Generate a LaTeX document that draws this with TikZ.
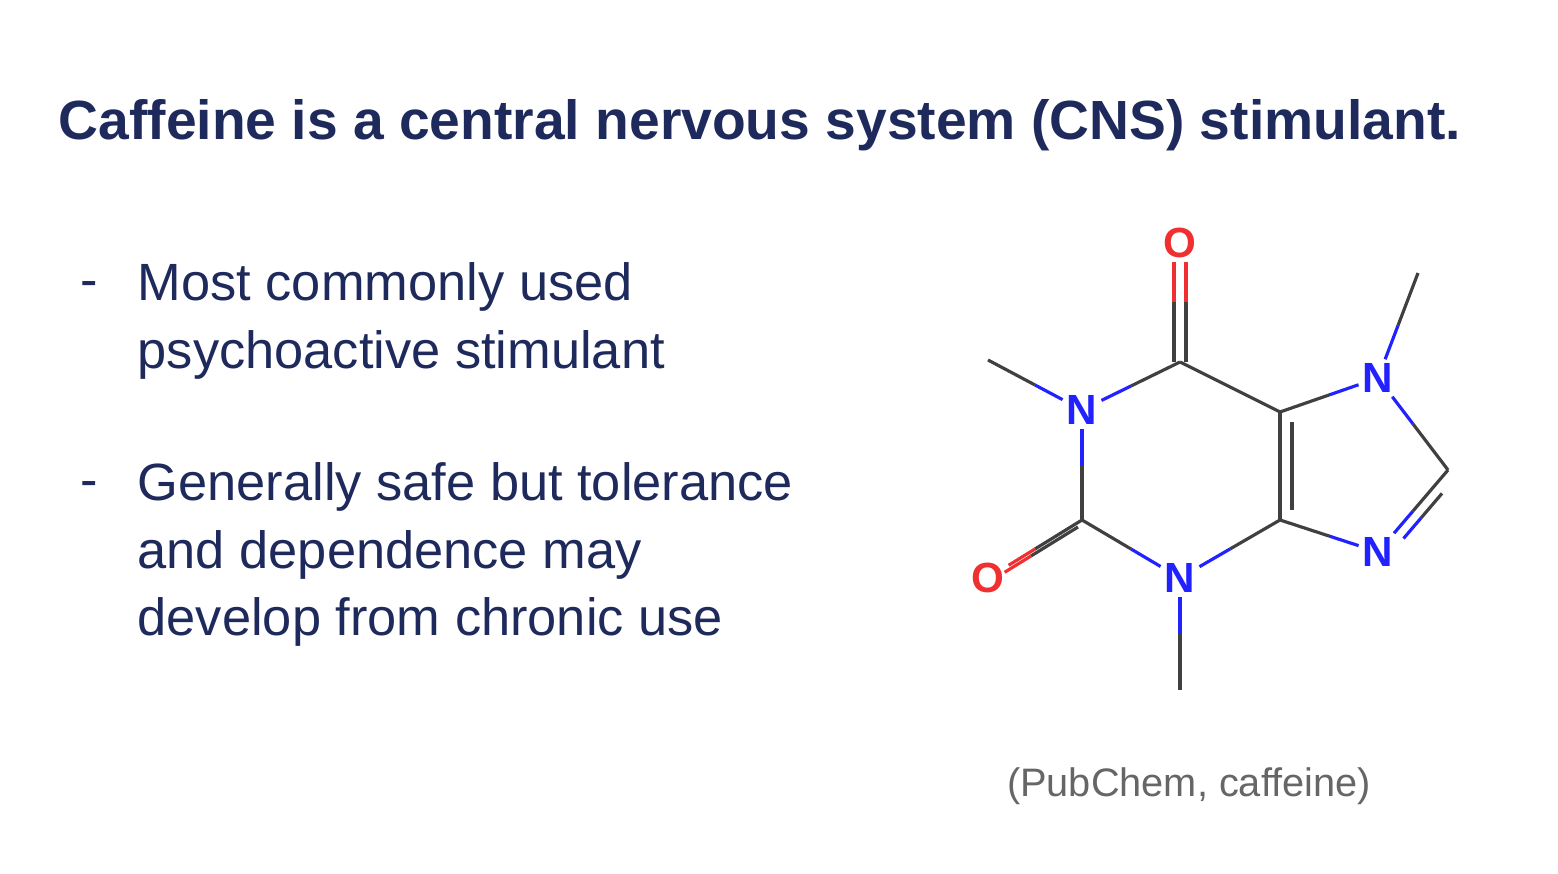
\documentclass[tikz,border=0pt]{standalone}
\usepackage{fontspec}
\setmainfont{Liberation Sans}
\usetikzlibrary{positioning}
\definecolor{navy}{HTML}{1F2A5C}
\definecolor{capgray}{HTML}{666666}
\definecolor{bondgray}{HTML}{404040}
\definecolor{nblue}{HTML}{2222FF}
\definecolor{ored}{HTML}{F03030}
\tikzset{
  atom/.style={inner sep=1pt, font=\bfseries\fontsize{12}{12}\selectfont},
  natom/.style={atom, text=nblue},
  oatom/.style={atom, text=ored},
  bullet/.style={anchor=north west, align=left, inner sep=0pt, text=navy,
    font=\fontsize{14.9}{19.2}\selectfont},
  dashmark/.style={anchor=base west, inner sep=0pt, text=navy,
    font=\fontsize{14.9}{19.2}\selectfont},
  bond/.style={draw=bondgray, line width=0.9pt}
}
% half-coloured single bond from a carbon (#1) to a hetero atom (#2)
\newcommand{\hbond}[3]{%
  \draw[bond] (#1) -- ($(#1)!0.5!(#2)$);
  \draw[bond, draw=#3] ($(#1)!0.5!(#2)$) -- (#2);}
\usetikzlibrary{calc}
\begin{document}
\begin{tikzpicture}[x=0.01cm, y=-0.01cm]
\useasboundingbox[fill=white] (0,0) rectangle (1558,874);
% title and bullets
\node (title) [anchor=base west, inner sep=0pt, text=navy,
  font=\bfseries\fontsize{15.7}{18}\selectfont] at (58,140)
  {Caffeine is a central nervous system (CNS) stimulant.};
\node (item1) [bullet] at (137,262) {Most commonly used\\psychoactive stimulant};
\node (item2) [bullet] at (137,462) {Generally safe but tolerance\\and dependence may\\develop from chronic use};
\node (dash1) [dashmark] at (80,298) {-};
\node (dash2) [dashmark] at (80,498) {-};
\node (source) [anchor=base, inner sep=0pt, text=capgray,
  font=\fontsize{11.3}{13}\selectfont] at (1189,797) {(PubChem, caffeine)};
% caffeine molecule
\node (O6) [oatom] at (1180,243) {O};
\coordinate (C6) at (1180,362);
\node (N1) [natom] at (1082,410) {N};
\coordinate (Me1) at (988,360);
\coordinate (C2) at (1082,520);
\node (O2) [oatom] at (988,578) {O};
\node (N3) [natom] at (1180,578) {N};
\coordinate (Me3) at (1180,690);
\coordinate (C4) at (1280,520);
\coordinate (C5) at (1280,412);
\node (N7) [natom] at (1378,378) {N};
\coordinate (Me7) at (1418,273);
\coordinate (C8) at (1448,470);
\node (N9) [natom] at (1378,552) {N};
% single bonds
\hbond{C6}{N1}{nblue}
\hbond{Me1}{N1}{nblue}
\hbond{C2}{N1}{nblue}
\hbond{C2}{N3}{nblue}
\hbond{Me3}{N3}{nblue}
\hbond{C4}{N3}{nblue}
\hbond{C5}{N7}{nblue}
\hbond{Me7}{N7}{nblue}
\hbond{C8}{N7}{nblue}
\hbond{C4}{N9}{nblue}
\draw[bond] (C6) -- (C5);
% double bonds
\begin{scope}[transform canvas={xshift=-0.06cm}]\hbond{C6}{O6}{ored}\end{scope}
\begin{scope}[transform canvas={xshift=0.06cm}]\hbond{C6}{O6}{ored}\end{scope}
\hbond{C2}{O2}{ored}
\begin{scope}[transform canvas={shift={(-0.04cm,-0.07cm)}}]\hbond{C2}{O2}{ored}\end{scope}
\draw[bond] (C4) -- (C5);
\draw[bond] ($(C4)+(12,-10)$) -- ($(C5)+(12,10)$);
\hbond{C8}{N9}{nblue}
\begin{scope}[transform canvas={shift={(0.08cm,-0.07cm)}}]
  \draw[bond] ($(C8)!0.2!(N9)$) -- ($(C8)!0.5!(N9)$);
  \draw[bond, draw=nblue] ($(C8)!0.5!(N9)$) -- ($(C8)!0.75!(N9)$);
\end{scope}
\end{tikzpicture}
\end{document}
